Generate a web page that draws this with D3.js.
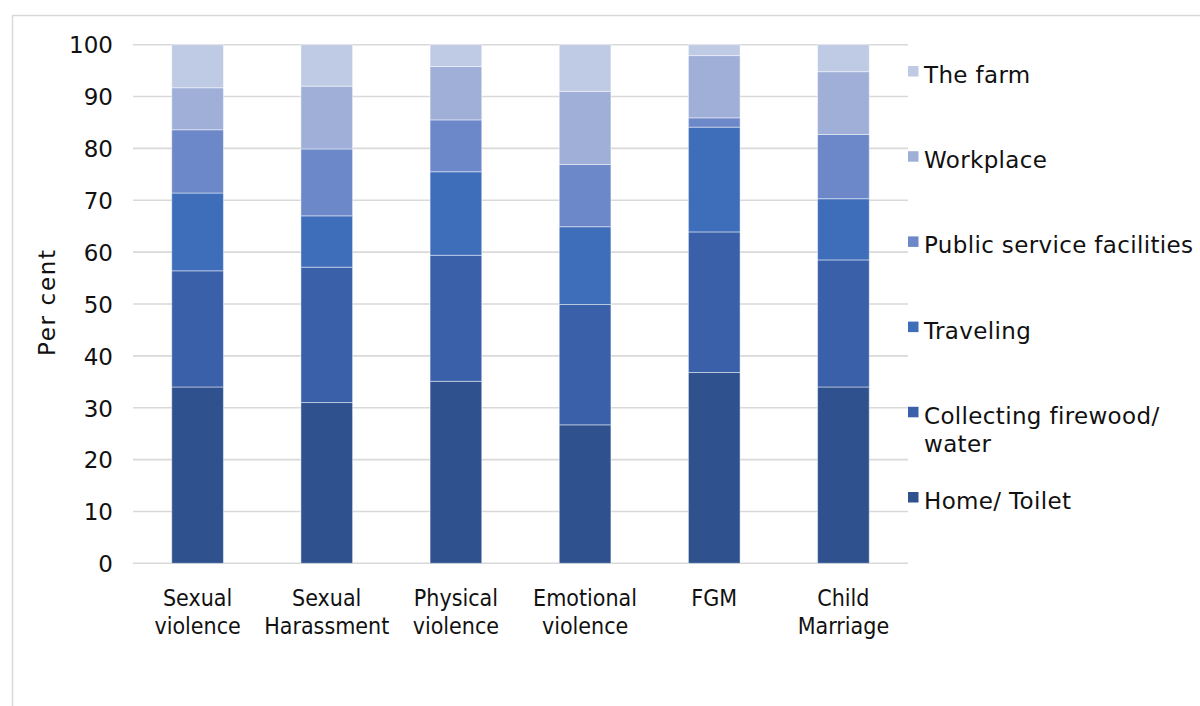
<!DOCTYPE html>
<html>
<head>
<meta charset="utf-8">
<script src="https://cdn.jsdelivr.net/npm/d3@7"></script>
<style>
  body { margin: 0; background: #fff; }
  svg { display: block; }
  .tick-label, .legend-text, .y-title { font-family: "DejaVu Sans", sans-serif; font-size: 23px; fill: #111; }
  .legend-text { letter-spacing: 0.35px; }
  .x-label { font-family: "DejaVu Sans Condensed", "DejaVu Sans", sans-serif; font-stretch: condensed; font-size: 23px; fill: #111; }
</style>
</head>
<body>
<svg id="chart"></svg>
<script>
"use strict";

// categories on the x axis (two lines each)
var categories = ["Sexual violence", "Sexual Harassment", "Physical violence", "Emotional violence", "FGM", "Child Marriage"];
var categoryLines = [["Sexual", "violence"], ["Sexual", "Harassment"], ["Physical", "violence"], ["Emotional", "violence"], ["FGM"], ["Child", "Marriage"]];

// series, bottom to top
var seriesNames = ["Home/ Toilet", "Collecting firewood/ water", "Traveling", "Public service facilities", "Workplace", "The farm"];
var legendLines = [["Home/ Toilet"], ["Collecting firewood/", "water"], ["Traveling"], ["Public service facilities"], ["Workplace"], ["The farm"]];
var seriesColors = ["#2f528f", "#3960a8", "#3e6dba", "#6d88c9", "#9fafd8", "#bfcae4"];

var homeToilet = [34, 31, 35.1, 26.7, 36.8, 34];
var firewoodWater = [22.4, 26.1, 24.3, 23.2, 27.1, 24.5];
var traveling = [15, 9.9, 16.1, 15, 20.2, 11.8];
var publicService = [12.2, 12.9, 10, 12, 1.8, 12.4];
var workplace = [8.1, 12.1, 10.3, 14.1, 12, 12.1];
var theFarm = [8.3, 8, 4.2, 9, 2.1, 5.2];

var yTicks = [0, 10, 20, 30, 40, 50, 60, 70, 80, 90, 100];

var seriesValues = [homeToilet, firewoodWater, traveling, publicService, workplace, theFarm];

var width = 1200, height = 706;
var plot = { left: 133, right: 908, top: 44.7, bottom: 563.3 };

var svg = d3.select('#chart')
    .attr('width', width)
    .attr('height', height);

// outer frame of the figure
svg.append('path')
    .attr('d', 'M12.5,' + height + 'V15.5H' + width)
    .attr('fill', 'none')
    .attr('stroke', '#d9d9d9')
    .attr('stroke-width', 1.5);

var rows = categories.map(function(c, i) {
    var row = { category: c };
    seriesNames.forEach(function(s, j) { row[s] = seriesValues[j][i]; });
    return row;
});

var stacked = d3.stack().keys(seriesNames)(rows);

var x = d3.scaleBand()
    .domain(categories)
    .range([plot.left, plot.right])
    .paddingInner(0.6)
    .paddingOuter(0.3);

var y = d3.scaleLinear()
    .domain([0, 100])
    .range([plot.bottom, plot.top]);

// gridlines
svg.append('g')
    .selectAll('line')
    .data(yTicks)
    .enter()
    .append('line')
    .attr('x1', plot.left)
    .attr('x2', plot.right)
    .attr('y1', d => y(d))
    .attr('y2', d => y(d))
    .attr('stroke', '#d9d9d9')
    .attr('stroke-width', 1.6);

// y tick labels
var yAxis = d3.axisLeft(y).tickValues(yTicks).tickSize(0).tickPadding(20);
var yg = svg.append('g')
    .attr('transform', 'translate(' + plot.left + ',0)')
    .call(yAxis);
yg.select('.domain').remove();
yg.selectAll('text')
    .attr('class', 'tick-label')
    .attr('dy', '0.36em');
yg.attr('font-family', null).attr('font-size', null);

// bars
svg.append('g')
    .selectAll('g')
    .data(stacked)
    .enter()
    .append('g')
    .attr('fill', (d, i) => seriesColors[i])
    .selectAll('rect')
    .data(d => d)
    .enter()
    .append('rect')
    .attr('x', d => x(d.data.category))
    .attr('width', x.bandwidth())
    .attr('y', d => y(d[1]))
    .attr('height', d => y(d[0]) - y(d[1]))
    .attr('stroke', 'rgba(255,255,255,0.45)')
    .attr('stroke-width', 1);

// x labels
var xl = svg.append('g')
    .selectAll('text')
    .data(categories)
    .enter()
    .append('text')
    .attr('class', 'x-label')
    .attr('text-anchor', 'middle')
    .attr('x', d => x(d) + x.bandwidth() / 2)
    .attr('y', 606);
xl.selectAll('tspan')
    .data((d, i) => categoryLines[i])
    .enter()
    .append('tspan')
    .attr('x', function() { return d3.select(this.parentNode).attr('x'); })
    .attr('dy', (d, i) => i === 0 ? 0 : 28)
    .text(d => d);

// y title
svg.append('text')
    .attr('class', 'y-title')
    .attr('text-anchor', 'middle')
    .attr('textLength', 106)
    .attr('lengthAdjust', 'spacing')
    .attr('transform', 'translate(55,' + (y(50) - 1) + ') rotate(-90)')
    .text('Per cent');

// legend, top entry is the last series
var legendTop = 66;
var legendStep = 85.2;
var legend = svg.append('g')
    .selectAll('g')
    .data(d3.range(seriesNames.length).reverse())
    .enter()
    .append('g')
    .attr('transform', (d, i) => 'translate(908,' + (legendTop + i * legendStep) + ')');

legend.append('rect')
    .attr('width', 10.5)
    .attr('height', 10.5)
    .attr('fill', d => seriesColors[d]);

legend.append('text')
    .attr('class', 'legend-text')
    .attr('x', 16)
    .attr('y', 17)
    .selectAll('tspan')
    .data(d => legendLines[d])
    .enter()
    .append('tspan')
    .attr('x', 16)
    .attr('dy', (d, i) => i === 0 ? 0 : 28.5)
    .text(d => d);
</script>
</body>
</html>
